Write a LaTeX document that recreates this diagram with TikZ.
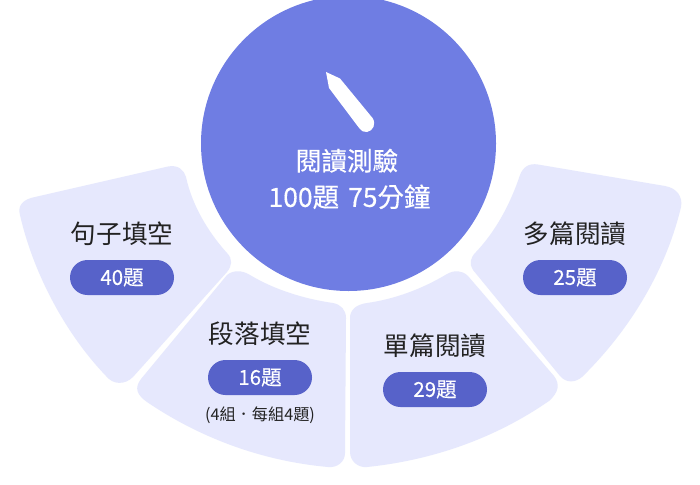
\documentclass[tikz,border=0pt]{standalone}
\usepackage{fontspec}
\setmainfont{Noto Sans CJK TC}
\newfontfamily\heavyfont[FakeBold=0.35]{Noto Sans CJK TC}
\usetikzlibrary{positioning}
\definecolor{discfill}{HTML}{6F7DE3}
\definecolor{petalfill}{HTML}{E6E8FD}
\definecolor{pillfill}{HTML}{5762C9}
\definecolor{labeltext}{HTML}{222222}
\tikzset{
  petal/.style={fill=petalfill},
  pill/.style={fill=pillfill, text=white, rounded corners=17.5pt, minimum width=104pt, minimum height=35pt, inner sep=0pt, font=\heavyfont\fontsize{20.5}{20.5}\selectfont},
  title/.style={text=labeltext, inner sep=0pt, text height=22pt, text depth=3pt, font=\fontsize{25.6}{25.6}\selectfont},
  disctext/.style={text=white, inner sep=0pt, text height=22pt, text depth=3pt, font=\heavyfont\fontsize{25.6}{25.6}\selectfont}
}
\begin{document}
\begin{tikzpicture}[x=1pt, y=-1pt, node distance=13pt]
        \clip (0,0) rectangle (700,484);
        \fill[white] (0,0) rectangle (700,484);

        \fill[discfill] (348.5,143.5) circle (147.5);
        % pen
        \fill[white] (326,72) -- (340,78.5) -- (372.5,118) .. controls (376.5,124) and (373,131) .. (367,132) .. controls (364,132.5) and (361,131) .. (359.5,128.5) -- (329,88) -- cycle;

        % petals
        \fill[petal] (35,197) -- (168,166.5) .. controls (178,164.5) and (184,170) .. (186,177) .. controls (192,205) and (208,232) .. (227,253) .. controls (233,259) and (232,266) .. (227,272) -- (133,377) .. controls (125,385) and (113,385) .. (106,376) .. controls (62,330) and (32,268) .. (20,215) .. controls (17,205) and (24,199) .. (35,197) -- cycle;
        \fill[petal] (227,275) .. controls (233,270) and (242,270) .. (250,275) .. controls (275,290) and (305,299) .. (333,303) .. controls (341,304.5) and (346,310) .. (346,318) -- (345,453) .. controls (345,462) and (337,468) .. (328,467) .. controls (262,461) and (200,438) .. (147,402) .. controls (137,395) and (134,388) .. (141,379) -- cycle;
        \fill[petal] (350,318) .. controls (350,310) and (356,304.5) .. (367,303) .. controls (395,299) and (422,289) .. (447,274) .. controls (454,270) and (462,270) .. (468,276) -- (554,376) .. controls (560,384) and (559,392) .. (549,401) .. controls (497,437) and (435,460) .. (367,467) .. controls (358,468) and (350,461) .. (350,452) -- cycle;
        \fill[petal] (520,175) .. controls (523,167) and (529,163) .. (538,164.5) -- (665,186) .. controls (677,188) and (683,197) .. (681,207) .. controls (666,270) and (630,330) .. (582,377) .. controls (575,383) and (566,383) .. (560,376) -- (473,270) .. controls (469,264) and (470,258) .. (476,252) .. controls (495,232) and (510,205) .. (520,175) -- cycle;

        \node[disctext] (discname) at (347,161) {閱讀測驗};
        \node[disctext, below=11pt of discname, xshift=2.5pt, font=\heavyfont\fontsize{26.5}{26.5}\selectfont] (disccount) {100題 \hspace{3pt}75分鐘};

        \node[pill] (sentcount) at (122,277.5) {40題};
        \node[title, above=of sentcount] (sentname) {句子填空};
        \node[pill] (paracount) at (260,377.5) {16題};
        \node[title, above=of paracount] (paraname) {段落填空};
        \node[text=labeltext, inner sep=0pt, font=\fontsize{16.2}{16.2}\selectfont, below=11pt of paracount] (paranote) {(4組．每組4題)};
        \node[pill] (singlecount) at (435,389.5) {29題};
        \node[title, above=of singlecount] (singlename) {單篇閱讀};
        \node[pill] (multicount) at (575,277.5) {25題};
        \node[title, above=of multicount] (multiname) {多篇閱讀};
    \end{tikzpicture}
\end{document}
